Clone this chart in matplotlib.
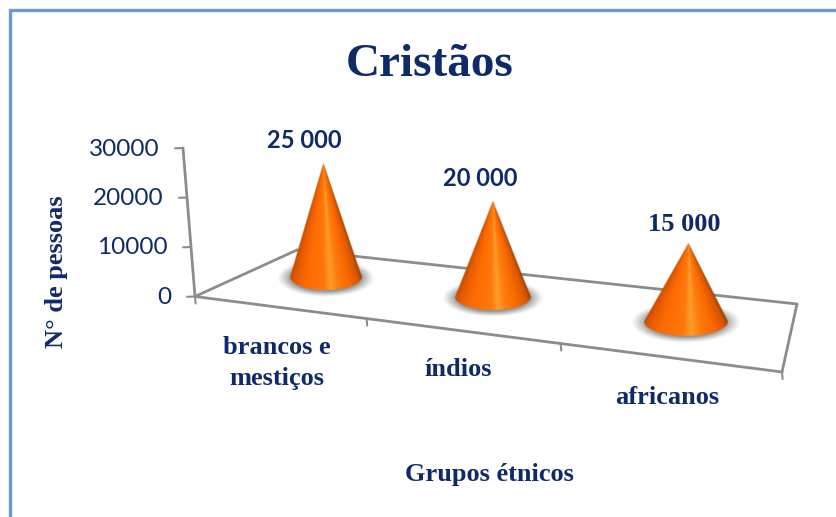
import numpy as np
import matplotlib
matplotlib.use("Agg")
import matplotlib.pyplot as plt
from matplotlib.lines import Line2D

title = "Cristãos"
categories = ["brancos e\nmestiços", "índios", "africanos"]
values = [25000, 20000, 15000]
value_labels = ["25 000", "20 000", "15 000"]
y_ticks = [0, 10000, 20000, 30000]
y_max = 30000
y_title = "N° de pessoas"
x_title = "Grupos étnicos"

NAVY = "#0F2A68"
GREY = "#8C8C8C"
W, H = 837, 517

fig = plt.figure(figsize=(W / 100, H / 100), dpi=100)
ax = fig.add_axes([0, 0, 1, 1])
ax.set_xlim(0, W)
ax.set_ylim(H, 0)
ax.axis("off")

# Floor corners of the perspective box, in pixels
FL, FR, BL, BR = map(np.array, ([195.0, 296.5], [782.0, 372.0], [297.0, 250.0], [797.0, 304.0]))


def homography(fl, fr, bl, br):
    src = [(0, 0), (1, 0), (0, 1), (1, 1)]
    dst = [fl, fr, bl, br]
    A, b = [], []
    for (u, v), (x, y) in zip(src, dst):
        A.append([u, v, 1, 0, 0, 0, -u * x, -v * x]); b.append(x)
        A.append([0, 0, 0, u, v, 1, -u * y, -v * y]); b.append(y)
    return np.append(np.linalg.solve(np.array(A, float), np.array(b, float)), 1).reshape(3, 3)


HM = homography(FL, FR, BL, BR)


def floor(u, d):
    """u: 0..1 along the categories, d: 0 front .. 1 back"""
    p = HM @ np.array([u, d, 1.0])
    return p[:2] / p[2]


def line(p, q, color=GREY, lw=2.0):
    ax.add_line(Line2D([p[0], q[0]], [p[1], q[1]], color=color, lw=lw, solid_capstyle="round"))


# Frame
for p, q in [((10, 10), (837, 10)), ((10, 10), (10, 517))]:
    line(p, q, color="#6E97D2", lw=2.4)

# Floor
line(FL, FR); line(FR, BR); line(BR, BL); line(BL, FL)
for i in range(len(categories) + 1):
    p = floor(i / len(categories), 0)
    line(p, p + np.array([0.6, 7]), lw=1.5)

# Value axis
AX0 = np.array([195, 296.5])
AX1 = np.array([183, 148])
line(AX0, AX1)
for v in y_ticks:
    p = AX0 + (AX1 - AX0) * v / y_max
    line(p, p + np.array([-8, 0.3]), lw=1.5)
    ax.text(171 - 11 * v / y_max, p[1] + 1, f"{v}", ha="right", va="center", color=NAVY,
            fontsize=17.5, family="Lato")


def cone(cx, cy, apex, hw, hh, scale_img=4):
    ax_x0, ax_x1 = cx - hw - 30, cx + hw + 30
    ax_y0, ax_y1 = apex[1] - 4, cy + hh + 18
    nx = int((ax_x1 - ax_x0) * scale_img)
    ny = int((ax_y1 - ax_y0) * scale_img)
    xs = np.linspace(ax_x0, ax_x1, nx)
    ys = np.linspace(ax_y0, ax_y1, ny)
    X, Y = np.meshgrid(xs, ys)

    # soft shadow on the floor
    r = np.sqrt(((X - cx) / (hw + 13)) ** 2 + ((Y - cy - 1) / (hh + 6)) ** 2)
    sa = np.clip((1.0 - r) / 0.30, 0, 1) ** 1.2 * 0.72
    shadow = np.zeros(X.shape + (4,))
    shadow[..., :3] = 0.42
    shadow[..., 3] = sa
    ext = (ax_x0, ax_x1, ax_y1, ax_y0)
    ax.imshow(shadow, extent=ext, origin="upper", interpolation="bilinear", aspect="auto", zorder=3)

    # cone body: shading follows the rays from the apex to the base
    f = np.clip((Y - apex[1]) / (cy - apex[1]), 1e-4, None)
    centre = apex[0] + (cx - apex[0]) * f
    half = hw * f
    t = (X - centre) / half
    stops = [-1.0, -0.8, -0.5, -0.05, 0.12, 0.3, 0.6, 0.88, 1.0]
    cols = np.array([[196, 78, 0], [232, 92, 0], [255, 107, 0], [255, 120, 12], [255, 158, 44],
                     [255, 124, 14], [250, 104, 0], [212, 86, 0], [150, 66, 10]], float) / 255
    rgba = np.zeros(X.shape + (4,))
    for c in range(3):
        rgba[..., c] = np.interp(t, stops, cols[:, c])
    px = 1.0
    inside_sides = np.clip((half - np.abs(X - centre)) / px + 0.5, 0, 1)
    below = Y > cy
    ell = np.sqrt(np.clip(1 - ((X - cx) / hw) ** 2, 0, 1)) * hh
    limit = np.where(below, np.clip((cy + ell - Y) / px + 0.5, 0, 1), 1.0)
    inside = np.where(Y < apex[1], 0, inside_sides) * limit
    inside = np.where(below & (np.abs(X - cx) > hw), 0, inside)
    rgba[..., 3] = inside
    ax.imshow(rgba, extent=ext, origin="upper", interpolation="bilinear", aspect="auto", zorder=4)


# Cone placement in perspective
u_pos = [0.1527, 0.4865, 0.8325]
depths = [0.555, 0.545, 0.51]
height_per_unit = [0.00455, 0.00480, 0.00520]
half_widths = [36, 38, 42]
half_heights = [13, 13, 14.5]
label_dy = [23, 22, 19]
label_dx = [-19, -12, -5]
label_fonts = [("Lato", 17), ("Lato", 17), ("Liberation Serif", 19)]

for i, v in enumerate(values):
    c = floor(u_pos[i], depths[i])
    cx, cy = c[0], c[1]
    lean = (u_pos[i] - 0.5) * 7.5
    apex = (cx + lean, cy - v * height_per_unit[i])
    cone(cx, cy, apex, half_widths[i], half_heights[i])
    fam, fs = label_fonts[i]
    ax.text(apex[0] + label_dx[i], apex[1] - label_dy[i], value_labels[i], ha="center", va="center",
            color=NAVY, fontsize=fs, fontweight="bold", family=fam, zorder=6)

ax.set_xlim(0, W)
ax.set_ylim(H, 0)

# Texts
serif = dict(family="Liberation Serif", fontweight="bold", color=NAVY)
ax.text(430, 65, title, ha="center", va="center", fontsize=34, **serif)
ax.text(277, 363, categories[0], ha="center", va="center", fontsize=19, linespacing=1.4, **serif)
ax.text(458, 369, categories[1], ha="center", va="center", fontsize=19, **serif)
ax.text(667, 397, categories[2], ha="center", va="center", fontsize=19, **serif)
ax.text(57, 272, y_title, ha="center", va="center", rotation=90, fontsize=19, **serif)
ax.text(489, 475, x_title, ha="center", va="center", fontsize=19, **serif)

fig.savefig("out.png", dpi=100, facecolor="white")
